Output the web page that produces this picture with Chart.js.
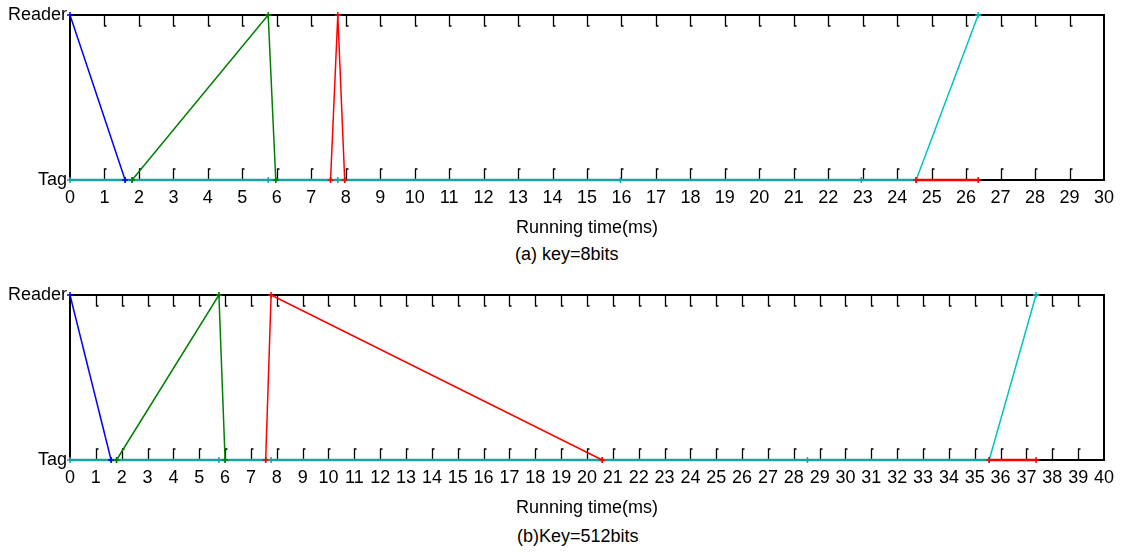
<!DOCTYPE html>
<html>
<head>
<meta charset="utf-8">
<script src="https://cdn.jsdelivr.net/npm/chart.js@4.4.1/dist/chart.umd.min.js"></script>
<style>
  body { margin: 0; background: #fff; width: 1121px; height: 552px; position: relative; overflow: hidden; }
  canvas { position: absolute; left: 0; }
  #c1 { top: 0; }
  #c2 { top: 270px; }
  .caption { position: absolute; font: 18px 'Liberation Sans', Arial, sans-serif; color: #000; white-space: nowrap; }
</style>
</head>
<body>
<canvas id="c1" width="1121" height="240"></canvas>
<canvas id="c2" width="1121" height="250"></canvas>
<div class="caption" id="capA" style="left:515px; top:244px;">(a) key=8bits</div>
<div class="caption" id="capB" style="left:517px; top:526px;">(b)Key=512bits</div>
<script>
// y levels: 0 -> Tag, 1 -> Reader
const yLabels = ['Tag', 'Reader'];
const xTitle = 'Running time(ms)';

// (a) key=8bits
const aXMax = 30;
const aBlueX = [0, 1.6],             aBlueY = [1, 0];
const aGreenX = [1.8, 5.75, 5.97],   aGreenY = [0, 1, 0];
const aRedX = [7.56, 7.77, 7.97],    aRedY = [0, 1, 0];
const aTagX = [0, 1.6, 1.8, 5.75, 5.97, 7.56, 7.77, 7.97, 15.97, 22.96, 24.55];
const aCyanX = [24.55, 26.35],       aCyanY = [0, 1];
const aTailX = [24.55, 26.35];

// (b) Key=512bits
const bXMax = 40;
const bBlueX = [0, 1.59],            bBlueY = [1, 0];
const bGreenX = [1.8, 5.76, 6.0],    bGreenY = [0, 1, 0];
const bRedX = [7.57, 7.78, 20.59],   bRedY = [0, 1, 0];
const bTagX = [0, 1.59, 1.8, 5.76, 6.0, 7.57, 7.78, 20.59, 28.53, 35.56];
const bCyanX = [35.56, 37.37],       bCyanY = [0, 1];
const bTailX = [35.56, 37.37];

const FONT = { family: "'Liberation Sans', Arial, sans-serif", size: 18 };

function pts(xs, ys) {
    return xs.map((x, i) => ({ x: x, y: ys ? ys[i] : 0 }));
}

function line(data, color, width) {
    return {
        data: data,
        borderColor: color,
        backgroundColor: color,
        borderWidth: width,
        pointStyle: 'cross',
        pointRadius: 3,
        pointBorderWidth: 1.5,
        pointBorderColor: color,
        tension: 0,
        fill: false,
        clip: false
    };
}

// frame + inward ticks, drawn under the data
const framePlugin = {
    id: 'frame',
    beforeDatasetsDraw(chart) {
        const ctx = chart.ctx;
        const a = chart.chartArea;
        const xs = chart.scales.x;
        ctx.save();
        ctx.strokeStyle = '#000';
        ctx.lineWidth = 2;
        ctx.strokeRect(a.left, a.top, a.right - a.left, a.bottom - a.top);
        ctx.lineWidth = 1.3;
        ctx.beginPath();
        for (let v = 1; v < xs.max; v++) {
            const px = Math.round(xs.getPixelForValue(v)) + 0.5;
            // top tick pointing down, small hook
            ctx.moveTo(px, a.top);
            ctx.lineTo(px, a.top + 11);
            ctx.lineTo(px + 2, a.top + 11);
            // bottom tick pointing up
            ctx.moveTo(px + 2, a.bottom - 11);
            ctx.lineTo(px, a.bottom - 11);
            ctx.lineTo(px, a.bottom);
        }
        ctx.stroke();
        ctx.restore();
    }
};

function makeChart(id, xMax, topPad, sets) {
    const ctx = document.getElementById(id).getContext('2d');
    return new Chart(ctx, {
        type: 'line',
        data: {
            datasets: [
                line(pts(sets.blueX, sets.blueY), '#0000ff', 1.5),
                line(pts(sets.greenX, sets.greenY), '#008000', 1.5),
                line(pts(sets.redX, sets.redY), '#ff0000', 1.5),
                line(pts(sets.tailX), '#ff0000', 2.5),
                line(pts(sets.tagX), '#1aa3a3', 2.5),
                line(pts(sets.cyanX, sets.cyanY), '#00c4c4', 1.5)
            ]
        },
        options: {
            responsive: false,
            animation: false,
            layout: { padding: { left: 0, right: 17, top: topPad, bottom: 0 } },
            plugins: { legend: { display: false }, tooltip: { enabled: false } },
            scales: {
                x: {
                    type: 'linear',
                    min: 0,
                    max: xMax,
                    grid: { display: false, drawTicks: false },
                    border: { display: false },
                    ticks: {
                        stepSize: 1,
                        autoSkip: false,
                        maxRotation: 0,
                        padding: 7,
                        color: '#000',
                        font: FONT
                    },
                    title: {
                        display: true,
                        text: xTitle,
                        color: '#000',
                        font: FONT,
                        padding: { top: 0, bottom: 1 }
                    },
                    afterFit: (scale) => { scale.height = 60; }
                },
                y: {
                    type: 'linear',
                    min: 0,
                    max: 1,
                    grid: { display: false, drawTicks: false },
                    border: { display: false },
                    afterBuildTicks: (scale) => { scale.ticks = [{ value: 0 }, { value: 1 }]; },
                    ticks: {
                        padding: 3,
                        color: '#000',
                        font: FONT,
                        callback: (v) => yLabels[v]
                    },
                    afterFit: (scale) => { scale.width = 70; }
                }
            }
        },
        plugins: [framePlugin]
    });
}

makeChart('c1', aXMax, 15, {
    blueX: aBlueX, blueY: aBlueY, greenX: aGreenX, greenY: aGreenY,
    redX: aRedX, redY: aRedY, tailX: aTailX, tagX: aTagX, cyanX: aCyanX, cyanY: aCyanY
});
makeChart('c2', bXMax, 25, {
    blueX: bBlueX, blueY: bBlueY, greenX: bGreenX, greenY: bGreenY,
    redX: bRedX, redY: bRedY, tailX: bTailX, tagX: bTagX, cyanX: bCyanX, cyanY: bCyanY
});
</script>
</body>
</html>
